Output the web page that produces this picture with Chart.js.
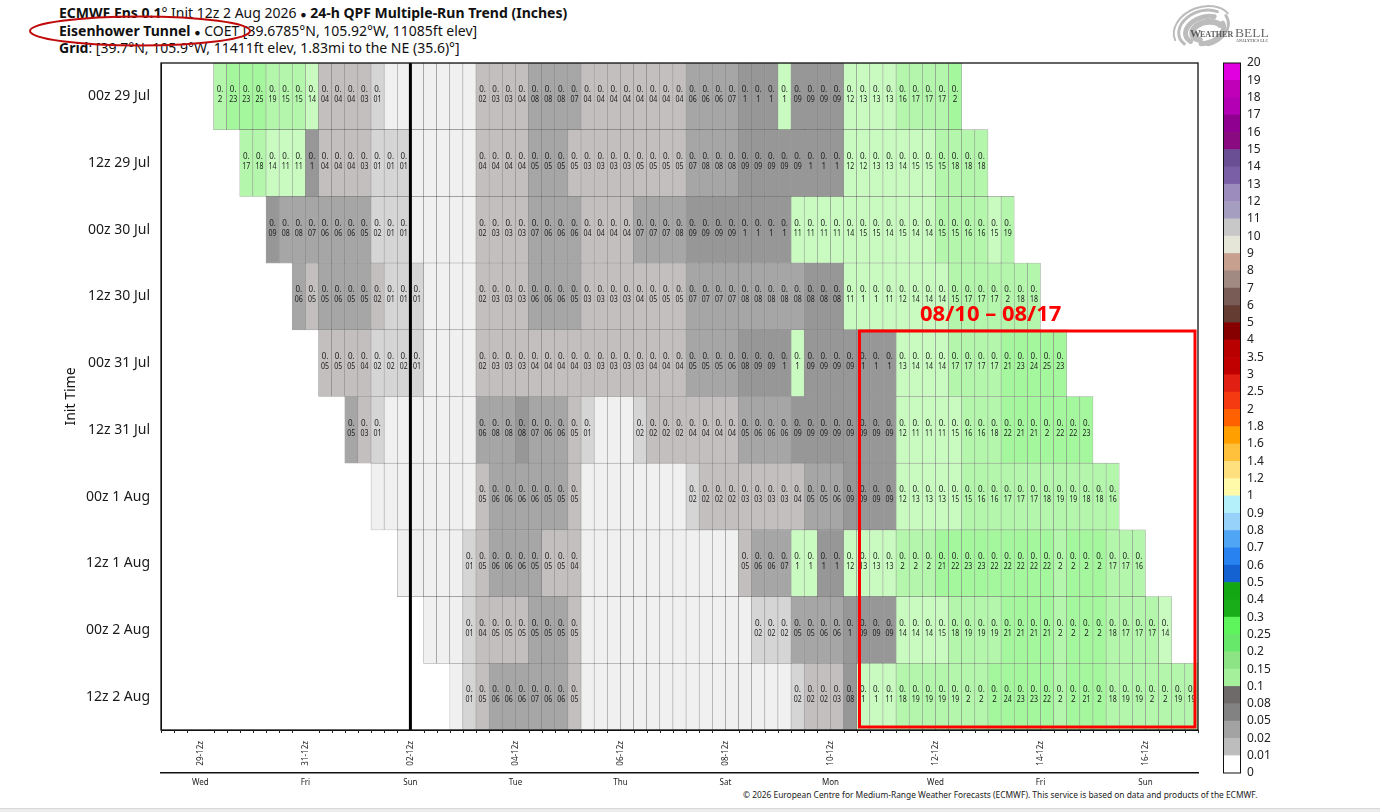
<!DOCTYPE html>
<html><head><meta charset="utf-8">
<script src="https://cdn.jsdelivr.net/npm/chart.js@4/dist/chart.umd.min.js"></script>
<style>
html,body{margin:0;padding:0;background:#fff;width:1380px;height:812px;overflow:hidden;font-family:"Noto Sans",sans-serif;color:#111}
canvas{position:absolute;top:0}
#main{left:0}
#bar{left:1200px}
.t{position:absolute;left:59px;font-size:14px;line-height:18px;white-space:nowrap}
.t i{font-style:normal;font-size:10.5px}
#copy{position:absolute;left:743px;top:789px;font-size:8.4px;line-height:12px;white-space:nowrap;color:#222}
#strip{position:absolute;left:0;top:808px;width:1380px;height:4px;background:#ececec;border-top:1px solid #d8d8d8;box-sizing:border-box}
</style></head><body>
<div class="t" style="top:4px"><b>ECMWF Ens 0.1</b>° Init 12z 2 Aug 2026 <i>●</i> <b>24-h QPF Multiple-Run Trend (Inches)</b></div>
<div class="t" style="top:22px"><b>Eisenhower Tunnel</b> <i>●</i> COET [39.6785°N, 105.92°W, 11085ft elev]</div>
<div class="t" style="top:39px"><b>Grid</b>: [39.7°N, 105.9°W, 11411ft elev, 1.83mi to the NE (35.6)°]</div>
<div id="copy">© 2026 European Centre for Medium-Range Weather Forecasts (ECMWF). This service is based on data and products of the ECMWF.</div>
<div id="strip"></div>
<canvas id="main" width="1380" height="812"></canvas>
<canvas id="bar" width="180" height="812"></canvas>
<script>
const initRuns = ['00z 29 Jul','12z 29 Jul','00z 30 Jul','12z 30 Jul','00z 31 Jul','12z 31 Jul','00z 1 Aug','12z 1 Aug','00z 2 Aug','12z 2 Aug'];
const firstStep = [4,6,8,10,12,14,16,18,20,22];

const run00z29Jul = [.199,.23,.23,.249,.19,.151,.151,.14,.04,.04,.04,.03,.01,0,0,0,0,0,0,0,.02,.03,.03,.04,.079,.079,.079,.07,.04,.04,.04,.04,.04,.04,.04,.04,.06,.06,.06,.07,.099,.099,.099,.104,.09,.09,.09,.09,.12,.13,.13,.13,.16,.17,.17,.17,.201];
const run12z29Jul = [.17,.18,.14,.11,.11,.099,.04,.04,.04,.03,.01,.01,.01,0,0,0,0,0,.04,.04,.04,.04,.05,.05,.05,.049,.03,.03,.03,.03,.049,.049,.049,.049,.07,.079,.079,.079,.09,.09,.09,.09,.09,.099,.099,.099,.12,.12,.13,.13,.14,.149,.149,.151,.18,.18,.18];
const run00z30Jul = [.09,.079,.079,.07,.06,.06,.06,.05,.019,.01,.01,0,0,0,0,0,.02,.03,.03,.03,.07,.06,.06,.06,.04,.04,.04,.04,.07,.07,.07,.079,.09,.09,.09,.09,.099,.099,.099,.099,.11,.11,.11,.11,.14,.149,.149,.14,.149,.14,.14,.151,.151,.16,.16,.149,.19];
const run12z30Jul = [.06,.049,.05,.06,.05,.05,.02,.01,.01,.01,0,0,0,0,.02,.03,.03,.03,.06,.06,.06,.05,.03,.03,.03,.03,.04,.049,.049,.049,.07,.07,.07,.07,.079,.079,.079,.079,.079,.08,.08,.08,.11,.104,.104,.11,.12,.14,.14,.14,.151,.17,.17,.17,.199,.18,.18];
const run00z31Jul = [.049,.049,.049,.04,.019,.019,.019,.01,0,0,0,0,.02,.03,.03,.03,.04,.04,.04,.04,.03,.03,.03,.03,.03,.04,.04,.04,.05,.05,.05,.06,.08,.09,.09,.099,.104,.09,.09,.09,.09,.099,.099,.099,.13,.14,.14,.14,.17,.17,.17,.17,.21,.23,.24,.249,.23];
const run12z31Jul = [.05,.03,.01,0,0,0,0,0,0,0,.06,.079,.079,.08,.07,.06,.06,.049,.01,0,0,0,.019,.02,.02,.02,.04,.04,.04,.04,.05,.06,.06,.06,.09,.09,.09,.09,.09,.09,.09,.09,.12,.11,.11,.11,.149,.16,.16,.18,.22,.21,.21,.201,.22,.22,.23];
const run00z1Aug  = [0,0,0,0,0,0,0,0,.049,.06,.06,.06,.06,.05,.05,.049,0,0,0,0,0,0,0,0,.019,.02,.02,.02,.03,.03,.03,.03,.04,.05,.05,.06,.09,.09,.09,.09,.12,.13,.13,.13,.149,.151,.16,.16,.17,.17,.17,.18,.19,.19,.18,.18,.16];
const run12z1Aug  = [0,0,0,0,0,.01,.049,.06,.06,.06,.05,.049,.049,.04,0,0,0,0,0,0,0,0,0,0,0,0,.049,.06,.06,.07,.104,.104,.099,.099,.12,.13,.13,.13,.199,.199,.199,.21,.22,.23,.23,.22,.22,.22,.22,.22,.199,.201,.201,.201,.17,.17,.16];
const run00z2Aug  = [0,0,0,.01,.04,.049,.049,.049,.05,.05,.05,.049,0,0,0,0,0,0,0,0,0,0,0,0,0,.019,.019,.019,.05,.05,.06,.06,.099,.09,.09,.09,.14,.14,.14,.149,.18,.19,.19,.19,.21,.21,.21,.21,.199,.201,.201,.201,.18,.17,.17,.17,.14];
const run12z2Aug  = [0,.01,.049,.06,.06,.06,.07,.06,.06,.049,0,0,0,0,0,0,0,0,0,0,0,0,0,0,0,0,.019,.02,.02,.03,.08,.104,.104,.11,.18,.19,.19,.19,.19,.199,.199,.201,.24,.23,.23,.22,.199,.201,.21,.201,.18,.19,.19,.199,.199,.19,.19];
const runValues = [run00z29Jul,run12z29Jul,run00z30Jul,run12z30Jul,run00z31Jul,run12z31Jul,run00z1Aug,run12z1Aug,run00z2Aug,run12z2Aug];

const stepCount = 79;
const dateTickSteps = [3,11,19,27,35,43,51,59,67,75];
const dateTickLabels = ['29-12z','31-12z','02-12z','04-12z','06-12z','08-12z','10-12z','12-12z','14-12z','16-12z'];
const dayTickLabels = ['Wed','Fri','Sun','Tue','Thu','Sat','Mon','Wed','Fri','Sun'];
const initStep = 19;

const cellLevels = [0,.01,.02,.05,.08,.1,.15,.2,.25];
const cellColors = ['#f0f0f0','#d5d5d5','#c3bfbf','#a6a6a6','#979797','#c9fbc1','#b4f6ac','#a5f79e','#8ef48a'];

const barLevels = ['0','0.01','0.02','0.05','0.08','0.1','0.15','0.2','0.25','0.3','0.4','0.5','0.6','0.7','0.8','0.9','1','1.2','1.4','1.6','1.8','2','2.5','3','3.5','4','5','6','7','8','9','10','11','12','13','14','15','16','17','18','19','20'];
const barColors = ['#ffffff','#bdbdbd','#a3a3a3','#828282','#6e6a6a','#a5f19b','#8de485','#68e86a','#5df45c','#19ad19','#13a713','#1462d2','#2882f0','#50a5f5','#96d2fa','#b4f0fa','#fffaaa','#ffe07f','#ffc03c','#ffa000','#ff6000','#f53a12','#e11f13','#c00000','#b80000','#870000','#643c32','#7a5c56','#a08a82','#c8a090','#e6e6d8','#c8c8c8','#a69ec0','#9c8cbe','#7a5ea6','#6a4f94','#8a0a82','#900090','#b400b4','#c000b8','#e000e0'];

function cellColor(v){
  let c = cellColors[0];
  for (let i=0;i<cellLevels.length;i++) if (v>=cellLevels[i]) c = cellColors[i];
  return c;
}
const cellData=[], cellFill=[], cellText=[];
runValues.forEach((vals,r)=>{
  vals.forEach((v,k)=>{
    const s = firstStep[r]+k;
    cellData.push({x:[s,s+1],y:initRuns[r]});
    cellFill.push(cellColor(v));
    cellText.push(v>=.005 ? String(parseFloat(v.toFixed(2))).slice(2) : '');
  });
});

const overlay = {
  id:'overlay',
  afterDatasetsDraw(chart){
    const {ctx,chartArea:a,scales:{x}} = chart;
    const els = chart.getDatasetMeta(0).data;
    ctx.save();
    ctx.fillStyle='#1c1c1c'; ctx.textAlign='center'; ctx.textBaseline='middle';
    ctx.font='8px "Noto Sans"';
    els.forEach((el,i)=>{
      if(!cellText[i]) return;
      const p = el.getProps(['x','y','base']);
      const cx=(p.x+p.base)/2;
      ctx.fillText('0.',cx,p.y-6.5,7);
      ctx.fillText(cellText[i],cx,p.y+3.5,8);
    });
    const ix = x.getPixelForValue(initStep);
    ctx.strokeStyle='#000'; ctx.lineWidth=3;
    ctx.beginPath(); ctx.moveTo(ix,a.top); ctx.lineTo(ix,a.bottom); ctx.stroke();
    ctx.lineWidth=1.3; ctx.strokeStyle='#111';
    ctx.strokeRect(a.left,a.top,a.right-a.left,a.bottom-a.top);
    ctx.lineWidth=1; ctx.strokeStyle='#222';
    for(let s=0;s<=stepCount;s++){
      if(dateTickSteps.includes(s)) continue;
      const px=Math.round(x.getPixelForValue(s))+.5;
      ctx.beginPath(); ctx.moveTo(px,a.bottom); ctx.lineTo(px,a.bottom+3); ctx.stroke();
    }
    ctx.strokeStyle='#fe0000'; ctx.lineWidth=3;
    ctx.strokeRect(859.5,331,335.5,396);
    ctx.fillStyle='#fe0000'; ctx.font='bold 22px "Noto Sans"'; ctx.textAlign='left'; ctx.textBaseline='alphabetic';
    ctx.fillText('08/10 – 08/17',920,321);
    ctx.strokeStyle='#c00a0a'; ctx.lineWidth=2;
    ctx.beginPath(); ctx.ellipse(140,31,110,14.5,0,0,Math.PI*2); ctx.stroke();
    ctx.lineCap='round';
    ctx.strokeStyle='#bcbcbc';
    [[1203,29,30,22,-.35,3.1,6.0,2],[1203,29,25,18,-.35,2.7,5.6,3],[1205,30,20,13,-.3,2.6,5.4,5],[1207,31,15,9,-.2,2.2,5.9,6],[1205,27,24,18,-.35,-.2,1.7,3],[1205,30,19,13,-.3,-.1,2,5]].forEach(q=>{
      ctx.lineWidth=q[7]; ctx.beginPath(); ctx.ellipse(q[0],q[1],q[2],q[3],q[4],q[5],q[6]); ctx.stroke();
    });
    ctx.fillStyle='#5e5e5e'; ctx.font='bold 11px "Liberation Serif"'; ctx.fillText('W',1190,37);
    ctx.font='bold 8px "Liberation Serif"'; ctx.fillText('EATHER',1200,37);
    ctx.fillStyle='#6a6a6a'; ctx.font='13.5px "Liberation Serif"'; ctx.fillText('BELL',1235,37);
    ctx.font='bold 4px "Liberation Serif"'; ctx.fillText('ANALYTICS LLC',1236,42);
    ctx.restore();
  }
};

new Chart(document.getElementById('main'),{
  type:'bar',
  data:{labels:initRuns,datasets:[{data:cellData,backgroundColor:cellFill,borderColor:'rgba(0,0,0,.36)',borderWidth:.6,borderSkipped:false,barPercentage:1,categoryPercentage:1}]},
  options:{
    indexAxis:'y',responsive:false,animation:false,devicePixelRatio:1,
    layout:{padding:{left:63,top:63,right:182,bottom:19}},
    plugins:{legend:{display:false},tooltip:{enabled:false},title:{display:false}},
    scales:{
      y:{type:'category',labels:initRuns,offset:true,
        grid:{display:false,drawTicks:true,tickLength:5,tickColor:'#111'},
        border:{display:true,color:'#111'},
        ticks:{color:'#1a1a1a',font:{family:'Noto Sans',size:14},padding:6},
        title:{display:true,text:'Init Time',color:'#111',font:{family:'Noto Sans',size:14},padding:0},
        afterFit(s){s.width=98;}
      },
      x:{type:'linear',position:'bottom',min:0,max:stepCount,
        afterBuildTicks(s){s.ticks=dateTickSteps.map(v=>({value:v}));},
        grid:{display:false,drawOnChartArea:false,drawTicks:true,tickLength:6,tickColor:'#111'},
        border:{display:true,color:'#111'},
        ticks:{autoSkip:false,minRotation:90,maxRotation:90,color:'#222',font:{family:'Noto Sans',size:8},padding:5,
          callback(v){const i=dateTickSteps.indexOf(v);return i<0?'':dateTickLabels[i];}},
        afterFit(s){s.height=43;}
      },
      xDay:{type:'linear',position:'bottom',min:0,max:stepCount,
        afterBuildTicks(s){s.ticks=dateTickSteps.map(v=>({value:v}));},
        grid:{display:false,drawTicks:false},
        border:{display:true,color:'#111',width:1.5},
        ticks:{autoSkip:false,maxRotation:0,color:'#222',font:{family:'Noto Sans',size:8},padding:5,
          callback(v){const i=dateTickSteps.indexOf(v);return i<0?'':dayTickLabels[i];}},
        afterFit(s){s.height=20;}
      }
    }
  },
  plugins:[overlay]
});

const barStart = barColors.map((_,i)=>[i,i+1]);
const barFrame = {id:'barFrame',afterDatasetsDraw(c){const a=c.chartArea,x=c.ctx;x.save();x.strokeStyle='#111';x.lineWidth=1;x.strokeRect(a.left+.5,a.top,a.right-a.left-1,a.bottom-a.top);x.restore();}};
new Chart(document.getElementById('bar'),{
  type:'bar',
  data:{labels:['level'],datasets:barStart.map((r,i)=>({data:[r],backgroundColor:barColors[i],borderWidth:0,barPercentage:1,categoryPercentage:1,grouped:false}))},
  options:{
    responsive:false,animation:false,devicePixelRatio:1,
    layout:{padding:{left:23,top:63,right:0,bottom:39}},
    plugins:{legend:{display:false},tooltip:{enabled:false}},
    scales:{
      x:{display:false},
      y:{type:'linear',position:'right',min:0,max:barColors.length,
        afterBuildTicks(s){s.ticks=barLevels.map((_,i)=>({value:i}));},
        grid:{display:false,drawTicks:false},border:{display:false},
        ticks:{autoSkip:false,color:'#222',font:{family:'Noto Sans',size:12},padding:6,
          callback(v){return barLevels[v];}},
        afterFit(s){s.width=139;}
      }
    }
  },
  plugins:[barFrame]
});
</script>
</body></html>
